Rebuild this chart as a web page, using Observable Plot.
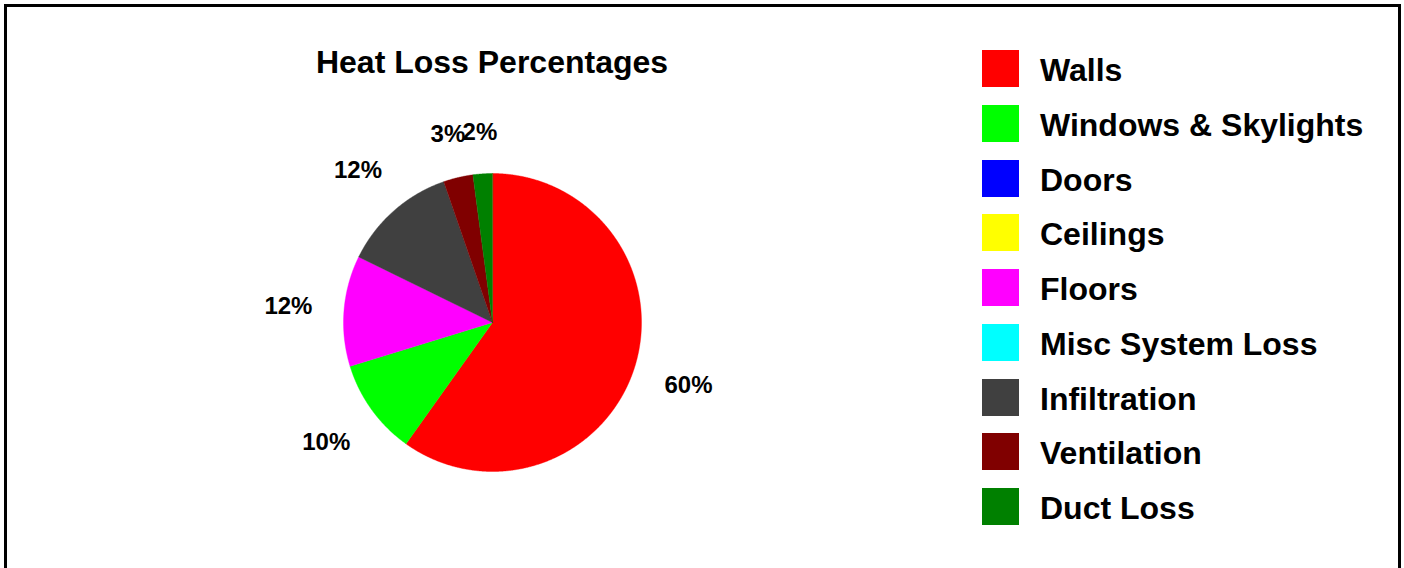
<!DOCTYPE html>
<html>
<head>
<meta charset="utf-8">
<script src="https://cdn.jsdelivr.net/npm/d3@7"></script>
<script src="https://cdn.jsdelivr.net/npm/@observablehq/plot@0.6"></script>
<style>
html, body { margin: 0; padding: 0; width: 1404px; height: 568px; overflow: hidden; background: #fff; }
body { position: relative; font-family: "Liberation Sans", Arial, sans-serif; }
#frame { position: absolute; left: 4px; top: 4px; width: 1391px; height: 640px; border: 3px solid #000; box-sizing: content-box; }
#title { position: absolute; left: 242px; width: 500px; top: 46px; text-align: center; font-size: 32px; line-height: 32px; font-weight: bold; color: #000; white-space: nowrap; }
#chart { position: absolute; }
.lg-row { position: absolute; left: 982px; height: 37px; }
.lg-sw { position: absolute; left: 0; top: 0; width: 37px; height: 37px; }
.lg-tx { position: absolute; left: 58px; top: 3px; font-size: 32px; line-height: 35px; font-weight: bold; color: #000; white-space: nowrap; }
</style>
</head>
<body>
<div id="frame"></div>
<div id="title">Heat Loss Percentages</div>
<div id="chart"></div>
<div id="legend"></div>
<script>
// ---- data ----
const categories = ["Walls", "Windows & Skylights", "Doors", "Ceilings", "Floors", "Misc System Loss", "Infiltration", "Ventilation", "Duct Loss"];
const values = [59.85, 10.4, 0, 0, 12.0, 0, 12.45, 3.2, 2.1];
const colors = ["#ff0000", "#00ff00", "#0000ff", "#ffff00", "#ff00ff", "#00ffff", "#404040", "#800000", "#008000"];

// ---- layout ----
const cx = 492, cy = 322, rPx = 149;
const half = 240 / rPx; // domain half-extent in radius units
const size = 480;

const rows = categories.map((c, i) => ({category: c, value: values[i]}));
const arcs = d3.pie().sort(null).value(d => d.value)(rows);

// slice polygons (planar, screen orientation: y down)
const slices = arcs.filter(a => a.data.value > 0).map(a => {
  const pts = [[0, 0]];
  const n = Math.max(2, Math.ceil((a.endAngle - a.startAngle) / 0.005));
  for (let k = 0; k <= n; k++) {
    const t = a.startAngle + (a.endAngle - a.startAngle) * k / n;
    pts.push([Math.sin(t), -Math.cos(t)]);
  }
  pts.push([0, 0]);
  return {type: "Feature", properties: {category: a.data.category}, geometry: {type: "Polygon", coordinates: [pts]}};
});

// labels: outside end, offset from the edge by a fixed gap plus half the text box
const fontPx = 24, gapPx = 31;
const labels = arcs.filter(a => a.data.value > 0).map(a => {
  const t = (a.startAngle + a.endAngle) / 2;
  const ux = Math.sin(t), uy = -Math.cos(t);
  const text = Math.round(a.data.value) + "%";
  const w = (text.length - 1) * 0.556 * fontPx + 0.889 * fontPx;
  const h = fontPx * 0.8;
  const ext = Math.abs(ux) * w / 2 + Math.abs(uy) * h / 2;
  const d = 1 + (gapPx + ext) / rPx;
  return {x: ux * d, y: uy * d, text};
});

const domain = {type: "Polygon", coordinates: [[[-half, -half], [half, -half], [half, half], [-half, half], [-half, -half]]]};

const chart = Plot.plot({
  width: size,
  height: size,
  margin: 0,
  inset: 0,
  projection: {type: "identity", domain},
  color: {domain: categories, range: colors},
  style: {overflow: "visible", background: "transparent"},
  marks: [
    Plot.geo(slices, {fill: d => d.properties.category, stroke: d => d.properties.category, strokeWidth: 0.4}),
    Plot.text(labels, {x: "x", y: "y", text: "text", fill: "#000", fontSize: fontPx, fontWeight: "bold", fontFamily: "Liberation Sans, Arial, sans-serif", textAnchor: "middle", lineAnchor: "middle"})
  ]
});
const holder = document.getElementById("chart");
holder.style.left = (cx - size / 2) + "px";
holder.style.top = (cy - size / 2) + "px";
holder.appendChild(chart);

// legend
const legend = document.getElementById("legend");
categories.forEach((c, i) => {
  const row = document.createElement("div");
  row.className = "lg-row";
  row.style.top = (50 + 54.75 * i) + "px";
  const sw = document.createElement("div");
  sw.className = "lg-sw";
  sw.style.background = colors[i];
  const tx = document.createElement("div");
  tx.className = "lg-tx";
  tx.textContent = c;
  row.appendChild(sw);
  row.appendChild(tx);
  legend.appendChild(row);
});
</script>
</body>
</html>
